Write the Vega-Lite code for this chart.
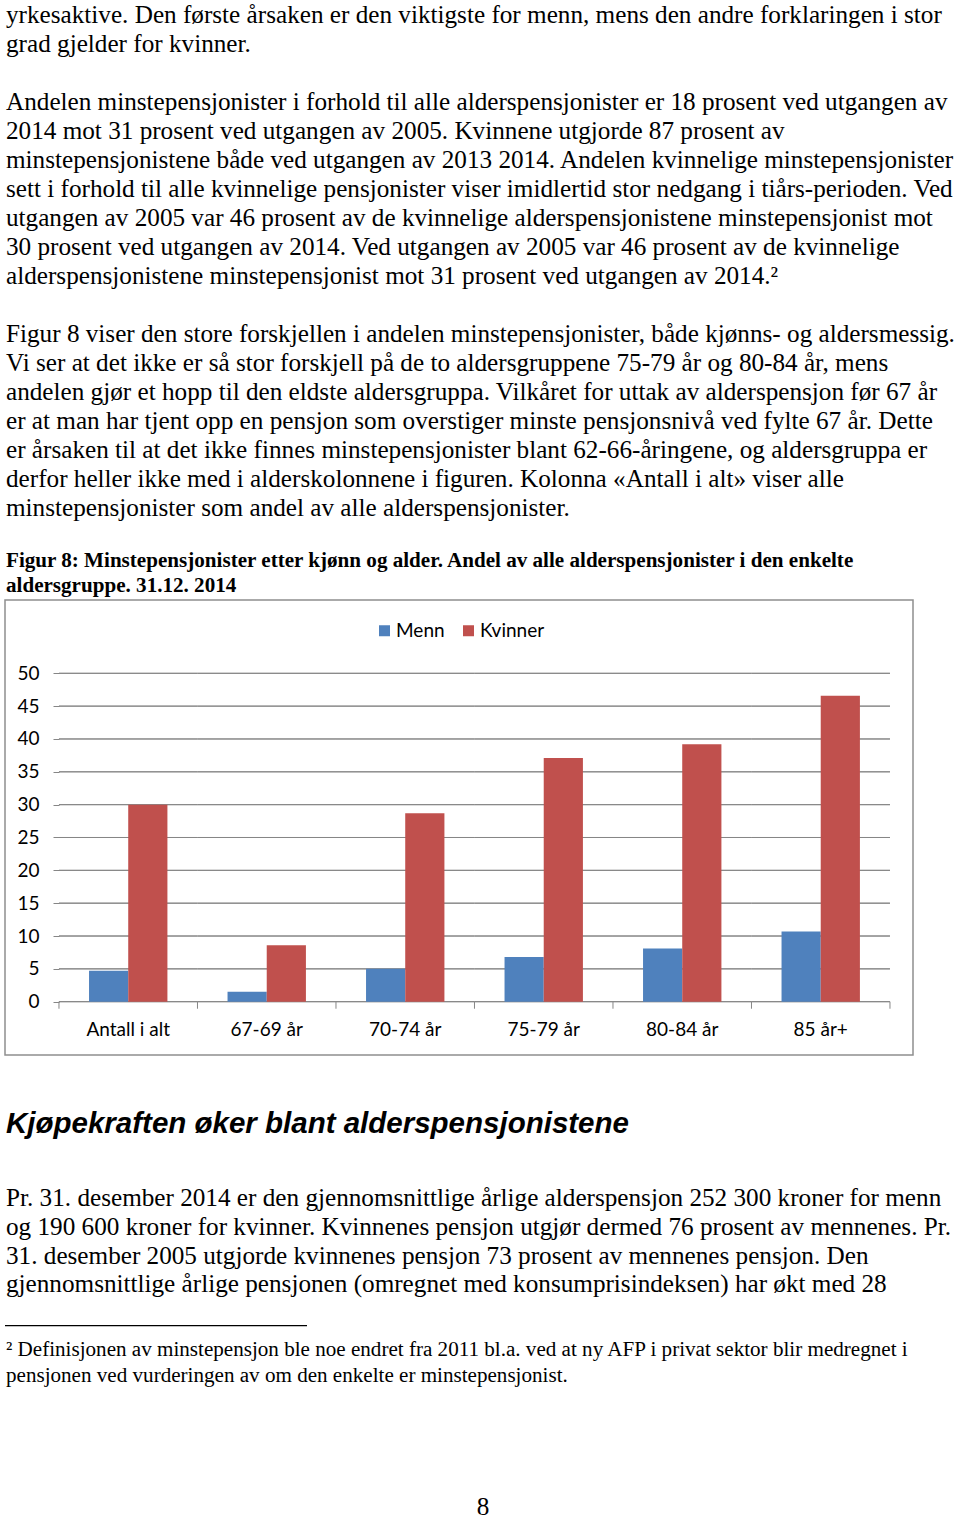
{
  "$schema": "https://vega.github.io/schema/vega-lite/v6.json",
  "padding": {"left": 4, "top": 0, "right": 0, "bottom": 0},
  "background": "white",
  "bounds": "flush",
  "spacing": 0,
  "config": {"view": {"stroke": null}, "concat": {"spacing": 0}},
  "datasets": {
    "bodyA": [
      {"line": 0, "text": "yrkesaktive. Den første årsaken er den viktigste for menn, mens den andre forklaringen i stor"},
      {"line": 1, "text": "grad gjelder for kvinner."},
      {"line": 3, "text": "Andelen minstepensjonister i forhold til alle alderspensjonister er 18 prosent ved utgangen av"},
      {"line": 4, "text": "2014 mot 31 prosent ved utgangen av 2005. Kvinnene utgjorde 87 prosent av"},
      {"line": 5, "text": "minstepensjonistene både ved utgangen av 2013 2014. Andelen kvinnelige minstepensjonister"},
      {"line": 6, "text": "sett i forhold til alle kvinnelige pensjonister viser imidlertid stor nedgang i tiårs-perioden. Ved"},
      {"line": 7, "text": "utgangen av 2005 var 46 prosent av de kvinnelige alderspensjonistene minstepensjonist mot"},
      {"line": 8, "text": "30 prosent ved utgangen av 2014. Ved utgangen av 2005 var 46 prosent av de kvinnelige"},
      {"line": 9, "text": "alderspensjonistene minstepensjonist mot 31 prosent ved utgangen av 2014.²"},
      {"line": 11, "text": "Figur 8 viser den store forskjellen i andelen minstepensjonister, både kjønns- og aldersmessig."},
      {"line": 12, "text": "Vi ser at det ikke er så stor forskjell på de to aldersgruppene 75-79 år og 80-84 år, mens"},
      {"line": 13, "text": "andelen gjør et hopp til den eldste aldersgruppa. Vilkåret for uttak av alderspensjon før 67 år"},
      {"line": 14, "text": "er at man har tjent opp en pensjon som overstiger minste pensjonsnivå ved fylte 67 år. Dette"},
      {"line": 15, "text": "er årsaken til at det ikke finnes minstepensjonister blant 62-66-åringene, og aldersgruppa er"},
      {"line": 16, "text": "derfor heller ikke med i alderskolonnene i figuren. Kolonna «Antall i alt» viser alle"},
      {"line": 17, "text": "minstepensjonister som andel av alle alderspensjonister."}
    ],
    "caption": [
      {"line": 0, "text": "Figur 8: Minstepensjonister etter kjønn og alder. Andel av alle alderspensjonister i den enkelte"},
      {"line": 1, "text": "aldersgruppe. 31.12. 2014"}
    ],
    "bars": [
      {"cat": "Antall i alt", "series": "Menn", "value": 4.7},
      {"cat": "Antall i alt", "series": "Kvinner", "value": 30.0},
      {"cat": "67-69 år", "series": "Menn", "value": 1.5},
      {"cat": "67-69 år", "series": "Kvinner", "value": 8.6},
      {"cat": "70-74 år", "series": "Menn", "value": 5.0},
      {"cat": "70-74 år", "series": "Kvinner", "value": 28.7},
      {"cat": "75-79 år", "series": "Menn", "value": 6.8},
      {"cat": "75-79 år", "series": "Kvinner", "value": 37.1},
      {"cat": "80-84 år", "series": "Menn", "value": 8.1},
      {"cat": "80-84 år", "series": "Kvinner", "value": 39.2},
      {"cat": "85 år+", "series": "Menn", "value": 10.7},
      {"cat": "85 år+", "series": "Kvinner", "value": 46.6}
    ],
    "grid": [
      {"cat": "Antall i alt", "g": [0, 5, 10, 15, 20, 25, 30, 35, 40, 45, 50]},
      {"cat": "67-69 år", "g": [0, 5, 10, 15, 20, 25, 30, 35, 40, 45, 50]},
      {"cat": "70-74 år", "g": [0, 5, 10, 15, 20, 25, 30, 35, 40, 45, 50]},
      {"cat": "75-79 år", "g": [0, 5, 10, 15, 20, 25, 30, 35, 40, 45, 50]},
      {"cat": "80-84 år", "g": [0, 5, 10, 15, 20, 25, 30, 35, 40, 45, 50]},
      {"cat": "85 år+", "g": [0, 5, 10, 15, 20, 25, 30, 35, 40, 45, 50]}
    ],
    "heading": [
      {"line": 0, "text": "Kjøpekraften øker blant alderspensjonistene"}
    ],
    "bodyD": [
      {"line": 0, "text": "Pr. 31. desember 2014 er den gjennomsnittlige årlige alderspensjon 252 300 kroner for menn"},
      {"line": 1, "text": "og 190 600 kroner for kvinner. Kvinnenes pensjon utgjør dermed 76 prosent av mennenes. Pr."},
      {"line": 2, "text": "31. desember 2005 utgjorde kvinnenes pensjon 73 prosent av mennenes pensjon. Den"},
      {"line": 3, "text": "gjennomsnittlige årlige pensjonen (omregnet med konsumprisindeksen) har økt med 28"}
    ],
    "sep": [{"line": 0}],
    "foot": [
      {"line": 0, "text": "² Definisjonen av minstepensjon ble noe endret fra 2011 bl.a. ved at ny AFP i privat sektor blir medregnet i"},
      {"line": 1, "text": "pensjonen ved vurderingen av om den enkelte er minstepensjonist."}
    ],
    "page": [{"line": 0, "text": "8"}]
  },
  "vconcat": [
    {
      "width": 956,
      "height": 551,
      "data": {"name": "bodyA"},
      "mark": {"type": "text", "align": "left", "baseline": "middle", "font": "Liberation Serif", "fontSize": 25.2, "color": "#000000", "dx": 1},
      "encoding": {
        "x": {"datum": "t", "type": "nominal", "scale": {"type": "point", "padding": 0, "align": 0}, "axis": null},
        "y": {"field": "line", "type": "ordinal", "scale": {"type": "band", "domain": [0, 1, 2, 3, 4, 5, 6, 7, 8, 9, 10, 11, 12, 13, 14, 15, 16, 17, 18], "paddingInner": 0, "paddingOuter": 0}, "axis": null},
        "text": {"field": "text", "type": "nominal"}
      }
    },
    {
      "width": 956,
      "height": 49,
      "data": {"name": "caption"},
      "mark": {"type": "text", "align": "left", "baseline": "middle", "font": "Liberation Serif", "fontWeight": "bold", "fontSize": 21.1, "color": "#000000", "dx": 1, "dy": -2},
      "encoding": {
        "x": {"datum": "t", "type": "nominal", "scale": {"type": "point", "padding": 0, "align": 0}, "axis": null},
        "y": {"field": "line", "type": "ordinal", "scale": {"type": "band", "domain": [0, 1], "paddingInner": 0, "paddingOuter": 0}, "axis": null},
        "text": {"field": "text", "type": "nominal"}
      }
    },
    {
      "width": 908,
      "height": 455,
      "view": {"stroke": "#8f8f8f", "strokeWidth": 1.5},
      "layer": [
        {
          "data": {"name": "grid"},
          "transform": [{"flatten": ["g"]}],
          "mark": {"type": "rect", "fillOpacity": 0, "stroke": "#868686", "strokeWidth": 1},
          "encoding": {
            "x": {"field": "cat", "type": "nominal", "title": null,
                  "scale": {"domain": ["Antall i alt", "67-69 år", "70-74 år", "75-79 år", "80-84 år", "85 år+"], "paddingInner": 0, "paddingOuter": 0.278, "align": 0.701},
                  "axis": {"orient": "bottom", "offset": -54, "domain": false, "ticks": false, "tickSize": 0, "labelFont": "Lato", "labelFontSize": 19, "labelColor": "#000000", "labelPadding": 19, "labelAngle": 0, "title": null}},
            "y": {"field": "g", "type": "quantitative", "title": null,
                  "scale": {"domain": [-8.115, 61.16], "nice": false, "zero": false},
                  "axis": {"orient": "left", "offset": -54, "values": [0, 5, 10, 15, 20, 25, 30, 35, 40, 45, 50], "domain": false, "ticks": true, "tickSize": 6, "tickColor": "#868686", "grid": false, "labelFont": "Lato", "labelFontSize": 19, "labelColor": "#000000", "labelPadding": 14, "title": null}},
            "y2": {"field": "g"}
          }
        },
        {
          "data": {"name": "bars"},
          "mark": {"type": "bar"},
          "encoding": {
            "x": {"field": "cat", "type": "nominal", "title": null,
                  "scale": {"domain": ["Antall i alt", "67-69 år", "70-74 år", "75-79 år", "80-84 år", "85 år+"], "paddingInner": 0, "paddingOuter": 0.278, "align": 0.701},
                  "axis": {"orient": "bottom", "offset": -54, "domain": false, "ticks": false, "tickSize": 0, "labelFont": "Lato", "labelFontSize": 19, "labelColor": "#000000", "labelPadding": 19, "labelAngle": 0, "title": null}},
            "xOffset": {"field": "series", "type": "nominal", "scale": {"domain": ["Menn", "Kvinner"], "paddingInner": 0, "paddingOuter": 0.767}},
            "y": {"field": "value", "type": "quantitative", "title": null,
                  "scale": {"domain": [-8.115, 61.16], "nice": false, "zero": false},
                  "axis": {"orient": "left", "offset": -54, "values": [0, 5, 10, 15, 20, 25, 30, 35, 40, 45, 50], "domain": false, "ticks": true, "tickSize": 6, "tickColor": "#868686", "grid": false, "labelFont": "Lato", "labelFontSize": 19, "labelColor": "#000000", "labelPadding": 14, "title": null}},
            "y2": {"datum": 0},
            "color": {"field": "series", "type": "nominal",
                      "scale": {"domain": ["Menn", "Kvinner"], "range": ["#4F81BD", "#C0504D"]},
                      "legend": {"orient": "none", "legendX": 370, "legendY": 621, "direction": "horizontal", "title": null, "symbolType": "square", "symbolSize": 121, "symbolStrokeWidth": 0, "labelFont": "Lato", "labelFontSize": 19, "labelColor": "#000000", "labelOffset": 2, "columnPadding": 14, "padding": 0}}
          }
        },
        {
          "data": {"name": "grid"},
          "mark": {"type": "rule", "color": "#868686", "strokeWidth": 1},
          "encoding": {
            "x": {"field": "cat", "type": "nominal", "bandPosition": 0, "title": null,
                  "scale": {"domain": ["Antall i alt", "67-69 år", "70-74 år", "75-79 år", "80-84 år", "85 år+"], "paddingInner": 0, "paddingOuter": 0.278, "align": 0.701},
                  "axis": {"orient": "bottom", "offset": -54, "domain": false, "ticks": false, "tickSize": 0, "labelFont": "Lato", "labelFontSize": 19, "labelColor": "#000000", "labelPadding": 19, "labelAngle": 0, "title": null}},
            "y": {"datum": 0, "type": "quantitative", "title": null,
                  "scale": {"domain": [-8.115, 61.16], "nice": false, "zero": false},
                  "axis": {"orient": "left", "offset": -54, "values": [0, 5, 10, 15, 20, 25, 30, 35, 40, 45, 50], "domain": false, "ticks": true, "tickSize": 6, "tickColor": "#868686", "grid": false, "labelFont": "Lato", "labelFontSize": 19, "labelColor": "#000000", "labelPadding": 14, "title": null}},
            "y2": {"datum": -1.07}
          }
        },
        {
          "data": {"name": "grid"},
          "transform": [{"filter": "datum.cat === '85 år+'"}],
          "mark": {"type": "rule", "color": "#868686", "strokeWidth": 1},
          "encoding": {
            "x": {"field": "cat", "type": "nominal", "bandPosition": 1, "title": null,
                  "scale": {"domain": ["Antall i alt", "67-69 år", "70-74 år", "75-79 år", "80-84 år", "85 år+"], "paddingInner": 0, "paddingOuter": 0.278, "align": 0.701},
                  "axis": {"orient": "bottom", "offset": -54, "domain": false, "ticks": false, "tickSize": 0, "labelFont": "Lato", "labelFontSize": 19, "labelColor": "#000000", "labelPadding": 19, "labelAngle": 0, "title": null}},
            "y": {"datum": 0, "type": "quantitative", "title": null,
                  "scale": {"domain": [-8.115, 61.16], "nice": false, "zero": false},
                  "axis": {"orient": "left", "offset": -54, "values": [0, 5, 10, 15, 20, 25, 30, 35, 40, 45, 50], "domain": false, "ticks": true, "tickSize": 6, "tickColor": "#868686", "grid": false, "labelFont": "Lato", "labelFontSize": 19, "labelColor": "#000000", "labelPadding": 14, "title": null}},
            "y2": {"datum": -1.07}
          }
        }
      ]
    },
    {
      "width": 956,
      "height": 128.6,
      "data": {"name": "heading"},
      "mark": {"type": "text", "align": "left", "baseline": "middle", "font": "Liberation Sans", "fontWeight": "bold", "fontStyle": "italic", "fontSize": 29.5, "color": "#000000", "dx": 1, "dy": 5},
      "encoding": {
        "x": {"datum": "t", "type": "nominal", "scale": {"type": "point", "padding": 0, "align": 0}, "axis": null},
        "y": {"field": "line", "type": "ordinal", "scale": {"type": "band", "domain": [0], "paddingInner": 0, "paddingOuter": 0}, "axis": null},
        "text": {"field": "text", "type": "nominal"}
      }
    },
    {
      "width": 956,
      "height": 114.8,
      "data": {"name": "bodyD"},
      "mark": {"type": "text", "align": "left", "baseline": "middle", "font": "Liberation Serif", "fontSize": 25.2, "color": "#000000", "dx": 1},
      "encoding": {
        "x": {"datum": "t", "type": "nominal", "scale": {"type": "point", "padding": 0, "align": 0}, "axis": null},
        "y": {"field": "line", "type": "ordinal", "scale": {"type": "band", "domain": [0, 1, 2, 3], "paddingInner": 0, "paddingOuter": 0}, "axis": null},
        "text": {"field": "text", "type": "nominal"}
      }
    },
    {
      "width": 302,
      "height": 53.1,
      "data": {"name": "sep"},
      "mark": {"type": "rule", "color": "#000000", "strokeWidth": 1.2},
      "encoding": {
        "y": {"field": "line", "type": "ordinal", "scale": {"type": "band", "domain": [0], "paddingInner": 0, "paddingOuter": 0}, "axis": null}
      }
    },
    {
      "width": 956,
      "height": 52,
      "data": {"name": "foot"},
      "mark": {"type": "text", "align": "left", "baseline": "middle", "font": "Liberation Serif", "fontSize": 21.1, "color": "#000000", "dx": 1, "dy": -16.5},
      "encoding": {
        "x": {"datum": "t", "type": "nominal", "scale": {"type": "point", "padding": 0, "align": 0}, "axis": null},
        "y": {"field": "line", "type": "ordinal", "scale": {"type": "band", "domain": [0, 1], "paddingInner": 0, "paddingOuter": 0}, "axis": null},
        "text": {"field": "text", "type": "nominal"}
      }
    },
    {
      "width": 956,
      "height": 115,
      "data": {"name": "page"},
      "mark": {"type": "text", "align": "center", "baseline": "middle", "font": "Liberation Serif", "fontSize": 25.2, "color": "#000000", "dy": 44.5},
      "encoding": {
        "x": {"datum": "t", "type": "nominal", "scale": {"type": "point", "padding": 0, "align": 0.5}, "axis": null},
        "y": {"field": "line", "type": "ordinal", "scale": {"type": "band", "domain": [0], "paddingInner": 0, "paddingOuter": 0}, "axis": null},
        "text": {"field": "text", "type": "nominal"}
      }
    }
  ]
}
